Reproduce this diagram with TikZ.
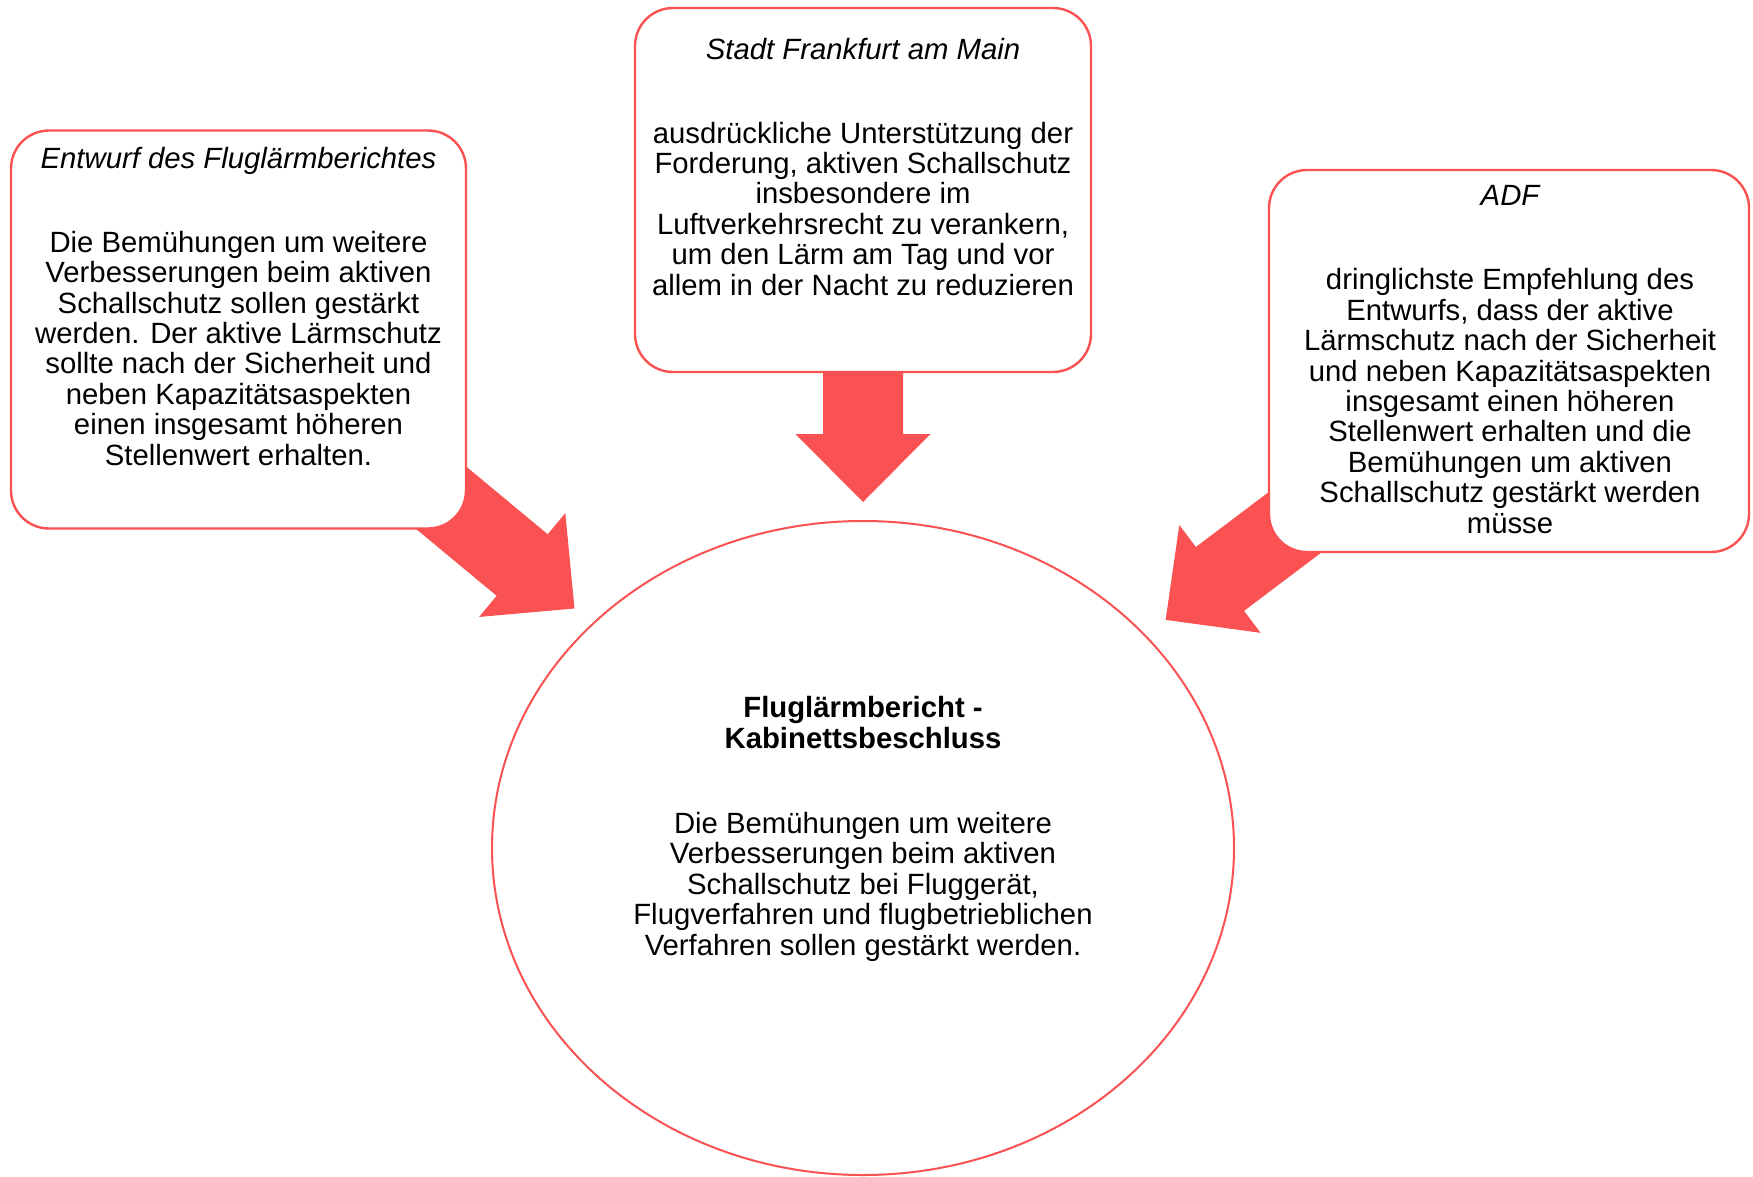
\documentclass[tikz,border=0pt]{standalone}
\usepackage{fontspec}
\setmainfont{Liberation Sans}
\usetikzlibrary{calc,shapes.geometric,backgrounds}

\definecolor{accent}{RGB}{250,82,82}

\tikzset{
  infobox/.style={draw=accent, line width=2.4pt, fill=white, rounded corners=38pt,
    inner sep=0pt, rectangle},
  hub/.style={draw=accent, line width=2pt, fill=white, ellipse, inner sep=0pt},
  % multi-line texts are placed by the baseline of their last line
  txt/.style={anchor=base, align=center, inner sep=0pt,
    font=\fontsize{29.3pt}{30.4pt}\selectfont},
  ttl/.style={txt, font=\fontsize{29.3pt}{30.4pt}\selectfont\itshape},
  bigarrow/.style={fill=accent, draw=none}
}

% block arrow from (#1) to the tip (#2)
\newcommand{\blockarrow}[2]{%
  \fill[bigarrow]
    ($(#1)!40pt!90:(#2)$) --
    ($($(#2)!68pt!(#1)$)!40pt!-90:(#1)$) --
    ($($(#2)!68pt!(#1)$)!67.5pt!-90:(#1)$) --
    (#2) --
    ($($(#2)!68pt!(#1)$)!67.5pt!90:(#1)$) --
    ($($(#2)!68pt!(#1)$)!40pt!90:(#1)$) --
    ($(#1)!40pt!-90:(#2)$) -- cycle;}

\begin{document}
\begin{tikzpicture}[x=1pt, y=-1pt]
\useasboundingbox (0,0) rectangle (1753,1176);

% the three source boxes and the central ellipse
\node[infobox, minimum width=455pt, minimum height=398pt] (lbox) at (238.5,329.5) {};
\node[infobox, minimum width=456pt, minimum height=364pt] (cbox) at (863,190) {};
\node[infobox, minimum width=480pt, minimum height=382pt] (rbox) at (1509,361) {};
\node[hub, minimum width=742pt, minimum height=654pt] (hub) at (863,848) {};

% tips of the arrows, just outside the ellipse
\coordinate (ltip) at ($(hub.center)!375pt!(lbox.center)$);
\coordinate (ctip) at ($(hub.center)!346pt!(cbox.center)$);
\coordinate (rtip) at ($(hub.center)!379pt!(rbox.center)$);

\begin{scope}[on background layer]
  \blockarrow{lbox.center}{ltip}
  \blockarrow{cbox.center}{ctip}
  \blockarrow{rbox.center}{rtip}
\end{scope}

% left box
\node[ttl] (ltitle) at (238.5,168) {Entwurf des Fluglärmberichtes};
\node[txt] (lbody) at (238.5,465) {Die Bemühungen um weitere\\Verbesserungen beim aktiven\\Schallschutz sollen gestärkt\\werden. Der aktive Lärmschutz\\sollte nach der Sicherheit und\\neben Kapazitätsaspekten\\einen insgesamt höheren\\Stellenwert erhalten.};

% centre box
\node[ttl] (ctitle) at (863,59) {Stadt Frankfurt am Main};
\node[txt] (cbody) at (863,295) {ausdrückliche Unterstützung der\\Forderung, aktiven Schallschutz\\insbesondere im\\Luftverkehrsrecht zu verankern,\\um den Lärm am Tag und vor\\allem in der Nacht zu reduzieren};

% right box
\node[ttl] (rtitle) at (1510,205) {ADF};
\node[txt] (rbody) at (1510,533) {dringlichste Empfehlung des\\Entwurfs, dass der aktive\\Lärmschutz nach der Sicherheit\\und neben Kapazitätsaspekten\\insgesamt einen höheren\\Stellenwert erhalten und die\\Bemühungen um aktiven\\Schallschutz gestärkt werden\\müsse};

% ellipse
\node[txt, font=\fontsize{29.3pt}{30.4pt}\selectfont\bfseries] (htitle) at (863,748) {Fluglärmbericht -\\Kabinettsbeschluss};
\node[txt] (hbody) at (863,955) {Die Bemühungen um weitere\\Verbesserungen beim aktiven\\Schallschutz bei Fluggerät,\\Flugverfahren und flugbetrieblichen\\Verfahren sollen gestärkt werden.};
\end{tikzpicture}
\end{document}
